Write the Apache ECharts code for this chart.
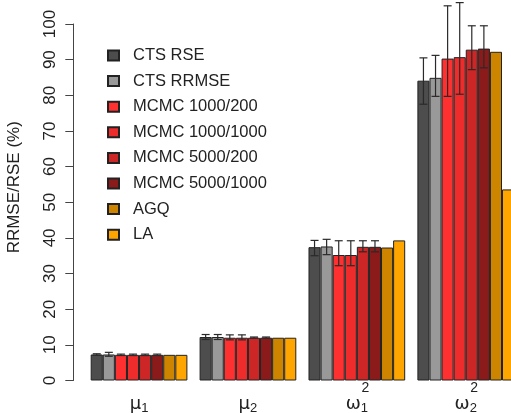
<!DOCTYPE html>
<html>
<head>
<meta charset="utf-8">
<script src="https://cdn.jsdelivr.net/npm/echarts@6/dist/echarts.min.js"></script>
<style>
  html, body { margin: 0; padding: 0; background: #fff; }
  #chart { width: 511px; height: 413px; }
</style>
</head>
<body>
<div id="chart"></div>
<script>
// parameters (x axis categories)
var categories = ['mu1', 'mu2', 'om1', 'om2'];
var yTicks = [0, 10, 20, 30, 40, 50, 60, 70, 80, 90, 100];

var seriesNames = ['CTS RSE', 'CTS RRMSE', 'MCMC 1000/200', 'MCMC 1000/1000',
                   'MCMC 5000/200', 'MCMC 5000/1000', 'AGQ', 'LA'];
var seriesColors = ['#4D4D4D', '#999999', '#FF3030', '#EE2C2C',
                    '#CD2626', '#8B1A1A', '#CD8500', '#FFA500'];

// bar heights per series, one per parameter
var ctsRse      = [7.3, 12.2, 37.4, 84.1];
var ctsRrmse    = [7.3, 12.2, 37.6, 84.9];
var mcmc1000200  = [7.2, 12.0, 35.2, 90.3];
var mcmc10001000 = [7.2, 12.0, 35.2, 90.7];
var mcmc5000200  = [7.2, 12.0, 37.5, 92.8];
var mcmc50001000 = [7.2, 12.0, 37.5, 93.1];
var agq         = [7.2, 12.0, 37.3, 92.2];
var la          = [7.2, 12.0, 39.3, 53.6];

// error bar low / high (null = no bar)
var errLow = [
  [7.1, 11.5, 35.0, 77.5],
  [6.8, 11.5, 35.3, 79.7],
  [7.0, 11.4, 32.2, 79.7],
  [7.0, 11.4, 32.2, 80.3],
  [7.0, 11.9, 36.1, 87.2],
  [7.0, 11.9, 36.1, 87.7],
  [null, null, null, null],
  [null, null, null, null]
];
var errHigh = [
  [7.5, 12.9, 39.3, 90.5],
  [7.9, 12.9, 39.6, 91.2],
  [7.4, 12.8, 39.2, 105.1],
  [7.4, 12.8, 39.2, 106.0],
  [7.4, 12.2, 39.2, 99.5],
  [7.4, 12.2, 39.2, 99.5],
  [null, null, null, null],
  [null, null, null, null]
];

var barValues = [ctsRse, ctsRrmse, mcmc1000200, mcmc10001000,
                 mcmc5000200, mcmc50001000, agq, la];

var catGap = 0.112;
var nBars = seriesNames.length;

// first line holds the superscript (blank for mu)
var labelText = {
  mu1: '{sp| }\n{b|μ}{sb|1}',
  mu2: '{sp| }\n{b|μ}{sb|2}',
  om1: '{sp|2}\n{b|ω}{sb|1}',
  om2: '{sp|2}\n{b|ω}{sb|2}'
};

var series = [];
for (var i = 0; i < nBars; i++) {
  series.push({
    name: seriesNames[i],
    type: 'bar',
    data: barValues[i],
    barGap: '0%',
    barCategoryGap: (catGap * 100) + '%',
    itemStyle: {
      color: seriesColors[i],
      borderColor: '#222',
      borderWidth: 1
    }
  });
}

// error bars in one custom series
var errData = [];
for (var s = 0; s < nBars; s++) {
  for (var c = 0; c < categories.length; c++) {
    if (errLow[s][c] != null) {
      errData.push([c, s, errLow[s][c], errHigh[s][c]]);
    }
  }
}

series.push({
  type: 'custom',
  name: 'err',
  data: errData,
  encode: { x: 0, y: [2, 3] },
  z: 5,
  renderItem: function (params, api) {
    var c = api.value(0);
    var s = api.value(1);
    var band = api.size([1, 0])[0];
    var bw = band * (1 - catGap) / nBars;
    var center = api.coord([c, 0])[0];
    var x = center + (s - (nBars - 1) / 2) * bw;
    var lo = api.coord([c, api.value(2)])[1];
    var hi = api.coord([c, api.value(3)])[1];
    var cap = 4;
    var st = { stroke: '#2a2a2a', lineWidth: 1.2 };
    return {
      type: 'group',
      children: [
        { type: 'line', shape: { x1: x, y1: lo, x2: x, y2: hi }, style: st },
        { type: 'line', shape: { x1: x - cap, y1: hi, x2: x + cap, y2: hi }, style: st },
        { type: 'line', shape: { x1: x - cap, y1: lo, x2: x + cap, y2: lo }, style: st }
      ]
    };
  }
});

var chart = echarts.init(document.getElementById('chart'));
chart.setOption({
  animation: false,
  textStyle: { fontFamily: 'Liberation Sans, Arial, sans-serif' },
  grid: { left: 84.6, right: -9.2, top: 24, bottom: 32.5, containLabel: false, outerBoundsMode: 'none' },
  legend: {
    data: seriesNames,
    orient: 'vertical',
    left: 102,
    top: 42,
    itemWidth: 11,
    itemHeight: 10,
    itemGap: 8.6,
    icon: 'rect',
    textStyle: { fontSize: 16.5, color: '#222', padding: [0, 0, 0, 9] }
  },
  xAxis: {
    type: 'category',
    data: categories,
    axisLine: { show: false },
    axisTick: { show: false },
    axisLabel: {
      margin: 2,
      interval: 0,
      formatter: function (v) { return labelText[v]; },
      rich: {
        b: { fontSize: 18, lineHeight: 18, color: '#222', fontFamily: 'DejaVu Sans' },
        sb: { fontSize: 13, color: '#222', verticalAlign: 'bottom', padding: [8, 0, 0, 0] },
        sp: { fontSize: 14, lineHeight: 11, color: '#222', padding: [0, 0, 0, 17] }
      }
    }
  },
  yAxis: {
    type: 'value',
    min: 0,
    max: 100,
    interval: 10,
    offset: 11.3,
    name: 'RRMSE/RSE (%)',
    nameLocation: 'middle',
    nameGap: 50,
    nameRotate: 90,
    nameTextStyle: { fontSize: 17, color: '#222', padding: [0, 0, 0, 30] },
    splitLine: { show: false },
    axisLine: { show: true, lineStyle: { color: '#444', width: 1 } },
    axisTick: { show: true, length: 8, lineStyle: { color: '#444' } },
    axisLabel: { rotate: 90, fontSize: 17, color: '#222', margin: 14 }
  },
  series: series
});
</script>
</body>
</html>
